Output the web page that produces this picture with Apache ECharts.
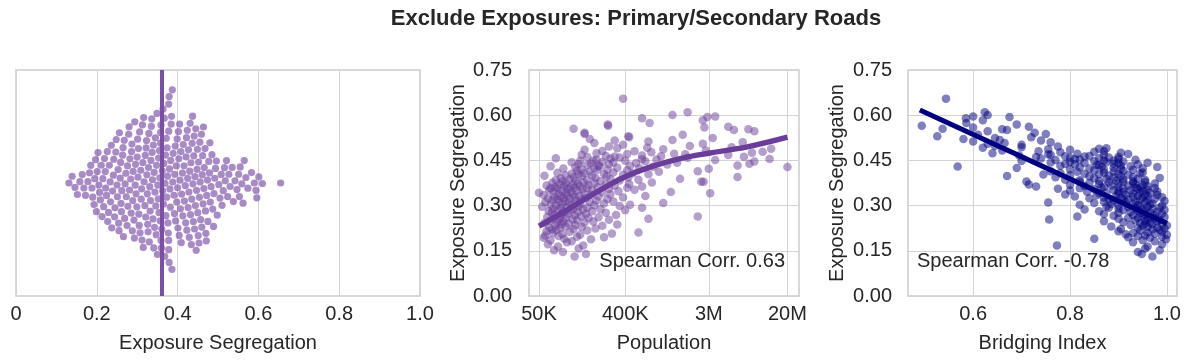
<!DOCTYPE html>
<html>
<head>
<meta charset="utf-8">
<title>Exclude Exposures: Primary/Secondary Roads</title>
<script src="https://cdn.jsdelivr.net/npm/echarts@6.0.0/dist/echarts.min.js"></script>
<style>
  html, body { margin: 0; padding: 0; background: #fff; }
  #chart { width: 1194px; height: 363px; }
</style>
</head>
<body>
<div id="chart"></div>
<script>
// one entry per city, sorted by segregation
const segregation = [
  0.131, 0.139, 0.146, 0.152, 0.158, 0.164, 0.168, 0.172, 0.178,
  0.182, 0.185, 0.188, 0.190, 0.193, 0.195, 0.197, 0.199,
  0.201, 0.203, 0.205, 0.207, 0.209, 0.211, 0.213, 0.215, 0.217, 0.219,
  0.221, 0.222, 0.224, 0.226, 0.227, 0.229, 0.231, 0.233, 0.234, 0.236, 0.237, 0.239,
  0.241, 0.242, 0.244, 0.245, 0.247, 0.248, 0.250, 0.251, 0.253, 0.254, 0.255, 0.256, 0.258, 0.259,
  0.260, 0.261, 0.262, 0.264, 0.265, 0.266, 0.268, 0.269, 0.270, 0.272, 0.273, 0.275, 0.276, 0.277, 0.279,
  0.280, 0.281, 0.282, 0.284, 0.285, 0.286, 0.287, 0.288, 0.289, 0.290, 0.292, 0.293, 0.294, 0.295, 0.296, 0.297, 0.299,
  0.300, 0.301, 0.302, 0.303, 0.304, 0.305, 0.306, 0.307, 0.309, 0.310, 0.311, 0.312, 0.313, 0.314, 0.315, 0.316, 0.317, 0.319,
  0.320, 0.321, 0.322, 0.323, 0.324, 0.325, 0.326, 0.327, 0.328, 0.329, 0.330, 0.331, 0.332, 0.333, 0.334, 0.335, 0.336, 0.337, 0.338, 0.339,
  0.340, 0.341, 0.342, 0.343, 0.344, 0.345, 0.346, 0.347, 0.348, 0.349, 0.350, 0.351, 0.352, 0.353, 0.354, 0.355, 0.356, 0.357, 0.358, 0.358, 0.359, 0.359,
  0.360, 0.361, 0.362, 0.363, 0.364, 0.365, 0.366, 0.367, 0.368, 0.369, 0.370, 0.371, 0.372, 0.373, 0.374, 0.375, 0.376, 0.377, 0.378, 0.379, 0.379,
  0.380, 0.381, 0.382, 0.383, 0.384, 0.385, 0.386, 0.387, 0.388, 0.389, 0.391, 0.392, 0.393, 0.394, 0.395, 0.397, 0.398, 0.399,
  0.400, 0.401, 0.402, 0.403, 0.404, 0.405, 0.406, 0.407, 0.408, 0.409, 0.410, 0.412, 0.413, 0.414, 0.416, 0.417, 0.419,
  0.420, 0.421, 0.422, 0.423, 0.424, 0.425, 0.426, 0.427, 0.428, 0.429, 0.430, 0.431, 0.432, 0.433, 0.434, 0.435, 0.436, 0.437, 0.438, 0.439,
  0.440, 0.441, 0.442, 0.443, 0.444, 0.445, 0.446, 0.447, 0.448, 0.449, 0.450, 0.451, 0.452, 0.453, 0.454, 0.455, 0.456, 0.457, 0.459,
  0.460, 0.461, 0.462, 0.463, 0.464, 0.465, 0.466, 0.468, 0.469, 0.470, 0.471, 0.472, 0.474, 0.475, 0.477, 0.479,
  0.480, 0.481, 0.483, 0.485, 0.487, 0.489, 0.490, 0.492, 0.494, 0.496, 0.498,
  0.502, 0.505, 0.508, 0.510, 0.513, 0.516, 0.518,
  0.521, 0.524, 0.527, 0.530, 0.535, 0.538,
  0.542, 0.547, 0.551, 0.553, 0.555, 0.559,
  0.562, 0.565, 0.569, 0.574,
  0.583, 0.590, 0.594, 0.596,
  0.601, 0.610,
  0.655
];

// population in thousands, same order as segregation
const populationK = [
  118, 155, 89, 72, 130, 79, 145, 62, 98,
  110, 66, 175, 92, 56, 240, 125, 80,
  58, 135, 88, 290, 70, 550, 105, 60, 160, 76,
  68, 115, 195, 83, 64, 140, 95, 230, 74, 120, 330, 86,
  102, 57, 150, 78, 185, 90, 65, 125, 270, 82, 112, 700, 71, 165,
  96, 210, 61, 2300, 138, 84, 118, 320, 73, 155, 100, 87, 250, 68, 128,
  92, 180, 63, 108, 400, 79, 145, 220, 70, 115, 85, 600, 160, 97, 54, 130, 350,
  75, 190, 110, 450, 66, 135, 88, 240, 1000, 102, 58, 170, 81, 300, 122, 93, 200, 69,
  140, 77, 260, 105, 62, 155, 90, 380, 118, 72, 210, 84, 650, 132, 98, 56, 175, 113, 280, 80,
  150, 3100, 95, 50, 230, 1200, 108, 71, 340, 125, 87, 180, 64, 500, 142, 99, 270, 78, 160, 66, 118, 420,
  105, 205, 74, 600, 135, 92, 310, 60, 165, 113, 250, 82, 440, 128, 96, 190, 69, 760, 145, 2500, 2650,
  88, 220, 120, 350, 75, 160, 550, 104, 280, 1500, 85, 195, 430, 115, 6000, 255, 140, 57,
  180, 95, 380, 130, 700, 240, 110, 480, 150, 78, 300, 900, 170, 2300, 125, 420, 205,
  260, 140, 3000, 90, 560, 190, 330, 120, 20000, 780, 215, 66, 450, 6000, 210, 160, 1100, 270, 130, 8000,
  175, 520, 1400, 300, 110, 230, 9000, 650, 135, 400, 185, 3500, 200, 850, 600, 13000, 280, 75, 1800,
  350, 160, 7000, 310, 950, 250, 600, 4800, 140, 1700, 420, 1300, 200, 8500, 750, 11000,
  500, 230, 2800, 150, 1000, 13500, 330, 680, 5200, 270, 1900,
  380, 2600, 190, 6800, 700, 310, 1250,
  170, 3300, 440, 430, 1600, 150,
  150, 9000, 5500, 7800, 115, 2700,
  4800, 265, 262, 720,
  2600, 600, 2900, 3500,
  1250, 1800,
  380
];

// bridging index, same order as segregation
const bridgingIndex = [
  0.97, 0.948, 0.94, 0.985, 0.955, 0.96, 0.773, 0.99, 0.93,
  0.975, 0.95, 0.998, 0.85, 0.965, 0.92, 0.99, 0.94,
  0.955, 1.0, 0.915, 0.975, 0.93, 0.96, 0.99, 0.9, 0.945, 0.985,
  0.97, 0.905, 0.995, 0.94, 0.98, 0.96, 0.885, 0.95, 1.0, 0.925, 0.97, 0.955,
  0.99, 0.945, 0.965, 0.91, 0.98, 0.87, 0.955, 0.935, 0.985, 0.757, 0.96, 0.9, 0.975, 0.94,
  0.92, 0.965, 0.995, 0.815, 0.95, 0.89, 0.975, 0.93, 0.955, 0.87, 0.99, 0.945, 0.9, 0.965, 0.925,
  0.98, 0.86, 0.94, 0.955, 0.91, 0.995, 0.83, 0.95, 0.97, 0.9, 0.935, 0.88, 0.985, 0.92, 0.96, 0.875, 0.945,
  0.99, 0.9, 0.94, 0.82, 0.965, 0.885, 0.93, 0.97, 0.85, 0.755, 0.915, 0.955, 0.87, 0.935, 0.995, 0.89, 0.96, 0.91,
  0.945, 0.88, 0.92, 0.975, 0.84, 0.905, 0.95, 0.87, 0.99, 0.93, 0.81, 0.96, 0.895, 0.94, 0.855, 0.98, 0.915, 0.79, 0.955, 0.9,
  0.93, 0.86, 0.965, 0.875, 0.945, 0.91, 0.835, 0.98, 0.9, 0.95, 0.8, 0.925, 0.89, 0.96, 0.85, 0.94, 0.775, 0.91, 0.975, 0.82, 0.865, 0.935,
  0.9, 0.945, 0.87, 0.73, 0.96, 0.83, 0.92, 0.885, 0.95, 0.8, 0.715, 0.935, 0.86, 0.975, 0.9, 0.84, 0.93, 0.88, 0.955, 0.91, 0.82,
  0.71, 0.93, 0.86, 0.895, 0.82, 0.955, 0.79, 0.91, 0.875, 0.94, 0.85, 0.985, 0.89, 0.77, 0.93, 0.84, 0.67, 0.905,
  0.88, 0.8, 0.92, 0.745, 0.86, 0.9, 0.83, 0.945, 0.78, 0.87, 0.95, 0.815, 0.89, 0.76, 0.91, 0.85, 0.93,
  0.87, 0.8, 0.905, 0.84, 0.95, 0.69, 0.89, 0.82, 0.98, 0.865, 0.568, 0.925, 0.78, 0.905, 0.86, 0.855, 0.94, 0.81, 0.79, 0.89,
  0.9, 0.83, 0.96, 0.76, 0.875, 0.8, 0.91, 0.85, 0.7, 0.89, 0.87, 0.77, 0.935, 0.82, 0.81, 0.9, 0.74, 0.86, 0.8,
  0.88, 0.73, 0.9, 0.83, 0.79, 0.84, 0.695, 0.87, 0.76, 0.755, 0.92, 0.815, 0.64, 0.905, 0.78, 0.85,
  0.735, 0.87, 0.66, 0.8, 0.755, 0.86, 0.875, 0.62, 0.7, 0.775, 0.645,
  0.7, 0.63, 0.665, 0.76, 0.6, 0.74, 0.655,
  0.58, 0.645, 0.72, 0.526, 0.61, 0.75,
  0.727, 0.63, 0.67, 0.66, 0.537, 0.6,
  0.715, 0.494, 0.69, 0.586,
  0.62, 0.585, 0.675, 0.6,
  0.63, 0.624,
  0.544
];

// areas that only appear in the swarm (the tall column next to the median line)
const swarmOnlySeg = [0.378, 0.378, 0.378];

// smoothed trend in the population panel
const trendPopK = [50, 100, 200, 400, 800, 1500, 3000, 7600, 20000];
const trendSeg = [0.232, 0.287, 0.345, 0.396, 0.432, 0.456, 0.474, 0.495, 0.527];

// regression line in the bridging panel
const fitBridge = [0.49, 1.0];
const fitSeg = [0.617, 0.241];

const popTickValues = [50000, 400000, 3000000, 20000000];
const popTickLabels = ['50K', '400K', '3M', '20M'];
const bridgeTicks = [0.6, 0.8, 1.0];
const corrLabels = ['Spearman Corr. 0.63', 'Spearman Corr. -0.78'];

const FONT = '"Liberation Sans", Arial, Helvetica, sans-serif';
const TXT = '#262626';
const GRIDLINE = '#d4d4d4';
const popTickLogs = popTickValues.map(v => Math.log10(v));

const swarmValues = segregation.concat(swarmOnlySeg);
const sortedSeg = swarmValues.slice().sort((a, b) => a - b);
const mid = Math.floor(sortedSeg.length / 2);
const medianSeg = sortedSeg.length % 2 ? sortedSeg[mid] : (sortedSeg[mid - 1] + sortedSeg[mid]) / 2;

const labelStyle = { fontFamily: FONT, fontSize: 20, color: TXT };
const nameStyle = { fontFamily: FONT, fontSize: 20, color: TXT };

function segYAxis(gridIndex, margin) {
  return {
    gridIndex: gridIndex, type: 'value', min: 0, max: 0.75, interval: 0.15,
    axisLine: { show: false }, axisTick: { show: false },
    axisLabel: Object.assign({ margin: margin, formatter: v => v.toFixed(2) }, labelStyle),
    splitLine: { show: true, lineStyle: { color: GRIDLINE, width: 1 } },
    name: 'Exposure Segregation', nameLocation: 'middle', nameGap: 61, nameRotate: 90,
    nameTextStyle: nameStyle
  };
}

const gridBase = { show: true, borderColor: '#cccccc', borderWidth: 1.5, backgroundColor: '#fff', containLabel: false, outerBoundsMode: 'none' };

const option = {
  animation: false,
  backgroundColor: '#ffffff',
  textStyle: { fontFamily: FONT },
  grid: [
    Object.assign({ left: 16, top: 70, width: 404, height: 226 }, gridBase),
    Object.assign({ left: 529, top: 70, width: 270, height: 226 }, gridBase),
    Object.assign({ left: 908, top: 70, width: 269, height: 226 }, gridBase)
  ],
  xAxis: [
    {
      gridIndex: 0, type: 'value', min: 0, max: 1, interval: 0.2,
      axisLine: { show: false }, axisTick: { show: false },
      axisLabel: Object.assign({ margin: 8, showMinLabel: true, showMaxLabel: true,
        formatter: v => (v === 0 ? '0' : v.toFixed(1)) }, labelStyle),
      splitLine: { show: true, lineStyle: { color: GRIDLINE, width: 1 } },
      name: 'Exposure Segregation', nameLocation: 'middle', nameGap: 37, nameTextStyle: nameStyle
    },
    {
      gridIndex: 1, type: 'value', min: 4.594, max: 7.422,
      axisLine: { show: false }, axisTick: { show: false, customValues: popTickLogs },
      axisLabel: Object.assign({ margin: 8, customValues: popTickLogs,
        formatter: v => {
          const i = popTickLogs.findIndex(t => Math.abs(t - v) < 1e-6);
          return i >= 0 ? popTickLabels[i] : '';
        } }, labelStyle),
      splitLine: { show: true, lineStyle: { color: GRIDLINE, width: 1 } },
      name: 'Population', nameLocation: 'middle', nameGap: 37, nameTextStyle: nameStyle
    },
    {
      gridIndex: 2, type: 'value', min: 0.4656, max: 1.0207,
      axisLine: { show: false }, axisTick: { show: false, customValues: bridgeTicks },
      axisLabel: Object.assign({ margin: 8, customValues: bridgeTicks, formatter: v => v.toFixed(1) }, labelStyle),
      splitLine: { show: true, lineStyle: { color: GRIDLINE, width: 1 } },
      name: 'Bridging Index', nameLocation: 'middle', nameGap: 37, nameTextStyle: nameStyle
    }
  ],
  yAxis: [
    { gridIndex: 0, type: 'value', min: -113, max: 113, show: false, splitLine: { show: false } },
    segYAxis(1, 17),
    segYAxis(2, 16)
  ],
  graphic: [
    { type: 'text', x: 636, y: 19, style: { text: 'Exclude Exposures: Primary/Secondary Roads',
      font: 'bold 22px ' + FONT, fill: TXT, textAlign: 'center', textVerticalAlign: 'middle' } },
    { type: 'text', x: 785, y: 261, z: 10, style: { text: corrLabels[0],
      font: '20px ' + FONT, fill: TXT, textAlign: 'right', textVerticalAlign: 'middle' } },
    { type: 'text', x: 917, y: 261, z: 10, style: { text: corrLabels[1],
      font: '20px ' + FONT, fill: TXT, textAlign: 'left', textVerticalAlign: 'middle' } }
  ],
  series: [
    {
      id: 'swarm', type: 'scatter', xAxisIndex: 0, yAxisIndex: 0, data: [],
      symbolSize: 7.2, itemStyle: { color: '#7b4fa8', opacity: 0.66 },
      markLine: {
        silent: true, symbol: 'none', label: { show: false },
        lineStyle: { color: '#7b4fa8', width: 4, type: 'solid', opacity: 1 },
        data: [{ xAxis: medianSeg }]
      }
    },
    {
      type: 'scatter', xAxisIndex: 1, yAxisIndex: 1,
      data: populationK.map((p, i) => [Math.log10(p * 1000), segregation[i]]),
      symbolSize: 8.5, itemStyle: { color: '#6a3d9a', opacity: 0.5 }
    },
    {
      type: 'line', xAxisIndex: 1, yAxisIndex: 1, smooth: 0.4, showSymbol: false, z: 5,
      data: trendPopK.map((p, i) => [Math.log10(p * 1000), trendSeg[i]]),
      lineStyle: { color: '#6a3d9a', width: 5.5 }
    },
    {
      type: 'scatter', xAxisIndex: 2, yAxisIndex: 2,
      data: bridgingIndex.map((b, i) => [b, segregation[i]]),
      symbolSize: 8.5, itemStyle: { color: '#000080', opacity: 0.5 }
    },
    {
      type: 'line', xAxisIndex: 2, yAxisIndex: 2, showSymbol: false, z: 5,
      data: fitBridge.map((b, i) => [b, fitSeg[i]]),
      lineStyle: { color: '#000080', width: 5 }
    }
  ]
};

const chart = echarts.init(document.getElementById('chart'), null, { renderer: 'canvas' });
chart.setOption(option);

// beeswarm layout: each point goes to the free spot closest to the centre line
function swarmLayout(values, diameter) {
  const yPerPx = 226 / Math.abs(chart.convertToPixel({ yAxisIndex: 0 }, -113) - chart.convertToPixel({ yAxisIndex: 0 }, 113));
  const placed = [];
  const out = [];
  values.slice().sort((a, b) => a - b).forEach(v => {
    const x = chart.convertToPixel({ xAxisIndex: 0 }, v);
    const near = placed.filter(p => Math.abs(p.x - x) < diameter);
    const cands = [0];
    near.forEach(p => {
      const dy = Math.sqrt(diameter * diameter - (p.x - x) * (p.x - x));
      cands.push(p.y + dy, p.y - dy);
    });
    cands.sort((a, b) => Math.abs(a) - Math.abs(b));
    const y = cands.find(c => near.every(p => (p.x - x) * (p.x - x) + (p.y - c) * (p.y - c) >= diameter * diameter - 1e-6));
    placed.push({ x: x, y: y });
    out.push([v, y * yPerPx]);
  });
  return out;
}

chart.setOption({ series: [{ id: 'swarm', data: swarmLayout(swarmValues, 7.5) }] });
</script>
</body>
</html>
